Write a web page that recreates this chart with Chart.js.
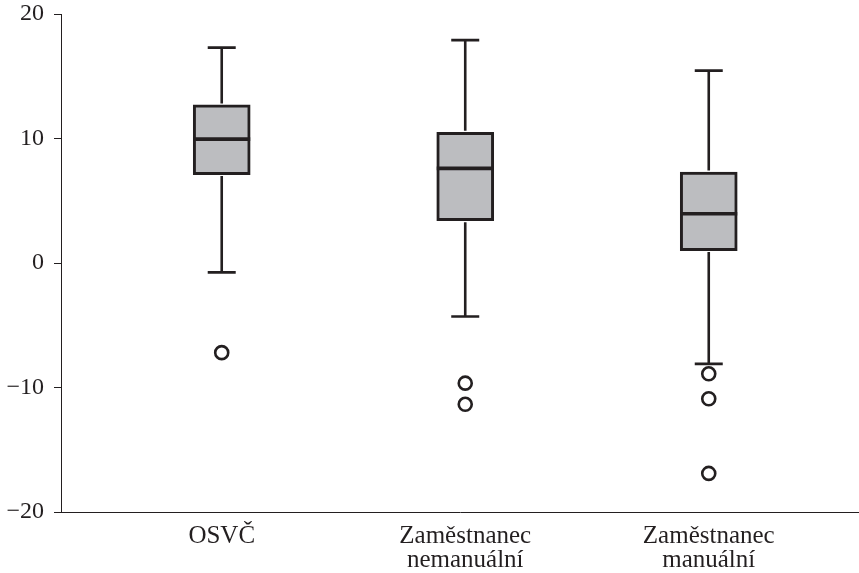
<!DOCTYPE html>
<html>
<head>
<meta charset="utf-8">
<script src="https://cdn.jsdelivr.net/npm/chart.js@4.4.1/dist/chart.umd.min.js"></script>
<style>
  html, body { margin: 0; padding: 0; background: #ffffff; }
  #wrap { width: 859px; height: 573px; }
</style>
</head>
<body>
<div id="wrap"><canvas id="c" width="859" height="573"></canvas></div>
<script>
// ---- data ----
const categories = [["OSVČ"], ["Zaměstnanec", "nemanuální"], ["Zaměstnanec", "manuální"]];
const whiskerHigh = [17.3, 17.9, 15.45];
const q3 = [12.7, 10.5, 7.3];
const median = [9.95, 7.6, 3.95];
const q1 = [7.1, 3.4, 1.0];
const whiskerLow = [-0.75, -4.3, -8.1];
const outliersOSVC = [-7.2];
const outliersNemanualni = [-9.65, -11.35];
const outliersManualni = [-8.9, -10.9, -16.9];
const yTicks = [-20, -10, 0, 10, 20];

const outliers = [outliersOSVC, outliersNemanualni, outliersManualni];
const ink = '#231f20';
const boxFill = '#bcbdc0';

const boxData = categories.map((c, i) => ({ x: i + 1, y: [q1[i], q3[i]] }));
const outlierData = [];
outliers.forEach((arr, i) => arr.forEach(v => outlierData.push({ x: i + 1, y: v })));

const whiskerPlugin = {
  id: 'whiskers',
  afterDatasetsDraw(chart) {
    const ctx = chart.ctx;
    const xs = chart.scales.x, ys = chart.scales.y;
    ctx.save();
    ctx.strokeStyle = ink;
    categories.forEach((c, i) => {
      const cx = xs.getPixelForValue(i + 1);
      const boxHalf = 57 / 2;
      const capHalf = 14;
      ctx.lineWidth = 2.6;
      ctx.beginPath();
      ctx.moveTo(cx, ys.getPixelForValue(q3[i]) - 1.5);
      ctx.lineTo(cx, ys.getPixelForValue(whiskerHigh[i]));
      ctx.moveTo(cx - capHalf, ys.getPixelForValue(whiskerHigh[i]));
      ctx.lineTo(cx + capHalf, ys.getPixelForValue(whiskerHigh[i]));
      ctx.moveTo(cx, ys.getPixelForValue(q1[i]) + 1.5);
      ctx.lineTo(cx, ys.getPixelForValue(whiskerLow[i]));
      ctx.moveTo(cx - capHalf, ys.getPixelForValue(whiskerLow[i]));
      ctx.lineTo(cx + capHalf, ys.getPixelForValue(whiskerLow[i]));
      ctx.stroke();
      ctx.lineWidth = 3.6;
      ctx.beginPath();
      ctx.moveTo(cx - boxHalf, ys.getPixelForValue(median[i]));
      ctx.lineTo(cx + boxHalf, ys.getPixelForValue(median[i]));
      ctx.stroke();
    });
    ctx.restore();
  }
};

Chart.defaults.font.family = "'Liberation Serif', 'Times New Roman', serif";
Chart.defaults.color = ink;

new Chart(document.getElementById('c'), {
  type: 'bar',
  data: {
    datasets: [
      {
        type: 'bar',
        data: boxData,
        backgroundColor: boxFill,
        borderColor: ink,
        borderWidth: 3,
        borderSkipped: false,
        barThickness: 57,
        order: 2
      },
      {
        type: 'scatter',
        data: outlierData,
        pointStyle: 'circle',
        pointRadius: 6.5,
        pointBackgroundColor: '#ffffff',
        pointBorderColor: ink,
        pointBorderWidth: 2.6,
        order: 1
      }
    ]
  },
  options: {
    responsive: false,
    animation: false,
    devicePixelRatio: 1,
    layout: { autoPadding: false, padding: { top: 14, left: 0, right: 0, bottom: 0 } },
    plugins: { legend: { display: false }, tooltip: { enabled: false } },
    scales: {
      x: {
        type: 'linear',
        offset: false,
        min: 0.34,
        max: 3.617,
        afterBuildTicks: s => { s.ticks = categories.map((c, i) => ({ value: i + 1 })); },
        afterFit: s => { s.height = 61; s.paddingLeft = 0; s.paddingRight = 0; },
        grid: { display: true, drawOnChartArea: false, drawTicks: false },
        border: { display: true, color: ink, width: 1 },
        ticks: {
          padding: 12,
          maxRotation: 0,
          autoSkip: false,
          font: { size: 25, lineHeight: 0.97 },
          color: ink,
          callback: v => categories[Math.round(v) - 1]
        }
      },
      y: {
        min: -20,
        max: 20,
        afterBuildTicks: s => { s.ticks = yTicks.map(v => ({ value: v })); },
        afterFit: s => { s.width = 61; s.paddingTop = 0; s.paddingBottom = 0; },
        grid: { display: true, drawOnChartArea: false, drawTicks: true, tickLength: 7, color: ink, lineWidth: 1 },
        border: { display: true, color: ink, width: 1 },
        ticks: {
          padding: 10,
          font: { size: 24 },
          color: ink,
          callback: v => (v < 0 ? '\u2212' + Math.abs(v) : String(v))
        }
      }
    }
  },
  plugins: [whiskerPlugin]
});
</script>
</body>
</html>
